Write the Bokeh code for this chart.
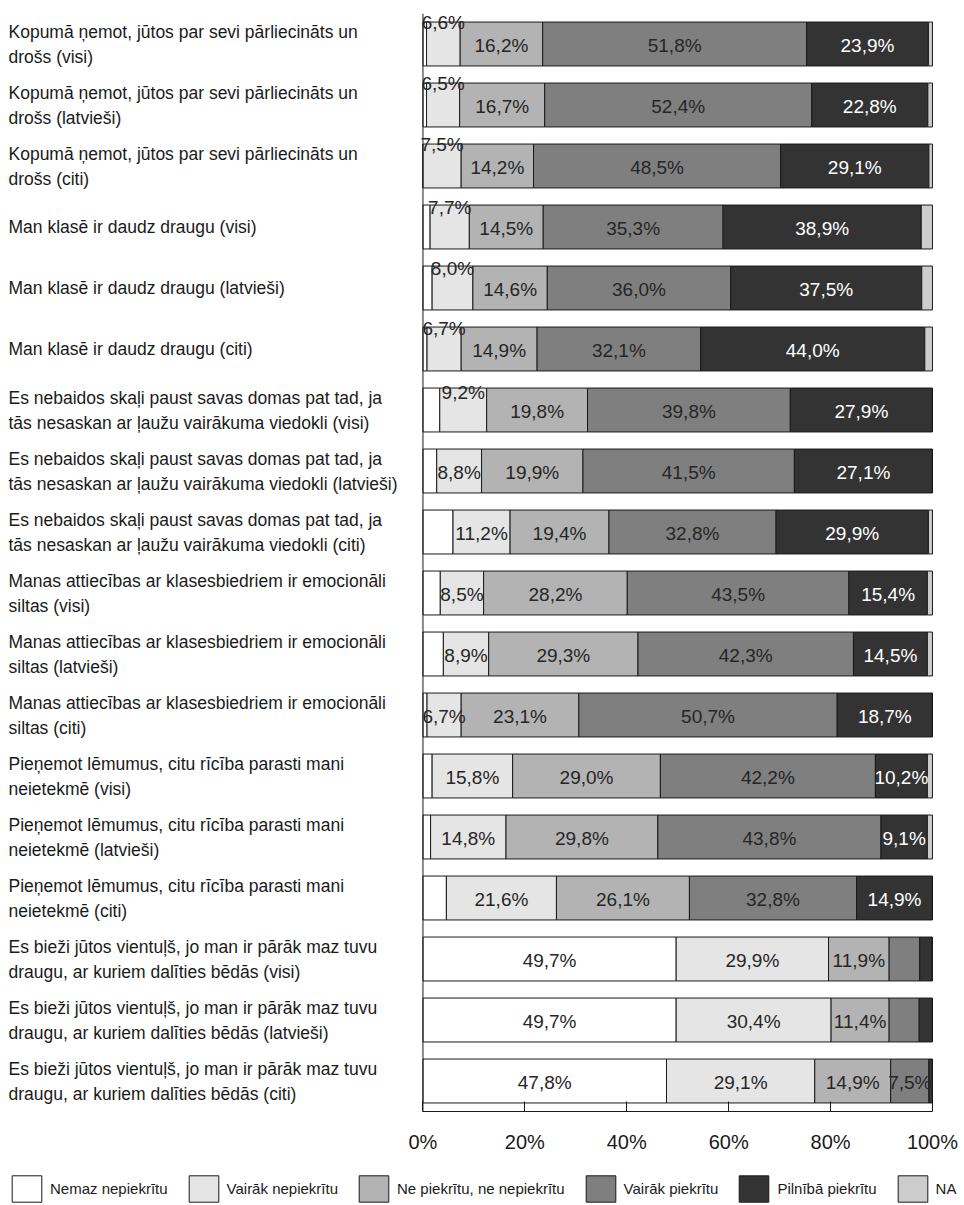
from bokeh.plotting import figure
from bokeh.layouts import column
from bokeh.models import Range1d, FixedTicker, Span, Legend, LegendItem, ColumnDataSource
from bokeh.embed import file_html
from bokeh.resources import INLINE
from bokeh.core.properties import value

# ---------------- data ----------------
categories = [
    "Kopumā ņemot, jūtos par sevi pārliecināts un\ndrošs (visi)",
    "Kopumā ņemot, jūtos par sevi pārliecināts un\ndrošs (latvieši)",
    "Kopumā ņemot, jūtos par sevi pārliecināts un\ndrošs (citi)",
    "Man klasē ir daudz draugu (visi)",
    "Man klasē ir daudz draugu (latvieši)",
    "Man klasē ir daudz draugu (citi)",
    "Es nebaidos skaļi paust savas domas pat tad, ja\ntās nesaskan ar ļaužu vairākuma viedokli (visi)",
    "Es nebaidos skaļi paust savas domas pat tad, ja\ntās nesaskan ar ļaužu vairākuma viedokli (latvieši)",
    "Es nebaidos skaļi paust savas domas pat tad, ja\ntās nesaskan ar ļaužu vairākuma viedokli (citi)",
    "Manas attiecības ar klasesbiedriem ir emocionāli\nsiltas (visi)",
    "Manas attiecības ar klasesbiedriem ir emocionāli\nsiltas (latvieši)",
    "Manas attiecības ar klasesbiedriem ir emocionāli\nsiltas (citi)",
    "Pieņemot lēmumus, citu rīcība parasti mani\nneietekmē (visi)",
    "Pieņemot lēmumus, citu rīcība parasti mani\nneietekmē (latvieši)",
    "Pieņemot lēmumus, citu rīcība parasti mani\nneietekmē (citi)",
    "Es bieži jūtos vientuļš, jo man ir pārāk maz tuvu\ndraugu, ar kuriem dalīties bēdās (visi)",
    "Es bieži jūtos vientuļš, jo man ir pārāk maz tuvu\ndraugu, ar kuriem dalīties bēdās (latvieši)",
    "Es bieži jūtos vientuļš, jo man ir pārāk maz tuvu\ndraugu, ar kuriem dalīties bēdās (citi)",
]

series_names = ["Nemaz nepiekrītu", "Vairāk nepiekrītu", "Ne piekrītu, ne nepiekrītu",
                "Vairāk piekrītu", "Pilnībā piekrītu", "NA"]

nemaz_nepiekritu = [0.7, 0.7, 0.0, 1.4, 1.8, 0.8, 3.3, 2.7, 5.9, 3.4, 4.0, 0.8, 1.8, 1.5, 4.6, 49.7, 49.7, 47.8]
vairak_nepiekritu = [6.6, 6.5, 7.5, 7.7, 8.0, 6.7, 9.2, 8.8, 11.2, 8.5, 8.9, 6.7, 15.8, 14.8, 21.6, 29.9, 30.4, 29.1]
ne_piekritu_ne_nepiekritu = [16.2, 16.7, 14.2, 14.5, 14.6, 14.9, 19.8, 19.9, 19.4, 28.2, 29.3, 23.1, 29.0, 29.8, 26.1, 11.9, 11.4, 14.9]
vairak_piekritu = [51.8, 52.4, 48.5, 35.3, 36.0, 32.1, 39.8, 41.5, 32.8, 43.5, 42.3, 50.7, 42.2, 43.8, 32.8, 6.0, 5.9, 7.5]
pilniba_piekritu = [23.9, 22.8, 29.1, 38.9, 37.5, 44.0, 27.9, 27.1, 29.9, 15.4, 14.5, 18.7, 10.2, 9.1, 14.9, 2.4, 2.6, 0.7]
na_values = [0.8, 0.9, 0.7, 2.2, 2.1, 1.5, 0.0, 0.0, 0.8, 1.0, 1.0, 0.0, 1.0, 1.0, 0.0, 0.1, 0.0, 0.0]

tick_values = [0, 20, 40, 60, 80, 100]
tick_labels = ["0%", "20%", "40%", "60%", "80%", "100%"]

# ---------------- style ----------------
colors = ["#FFFFFF", "#E5E5E5", "#B3B3B3", "#7F7F7F", "#333333", "#CCCCCC"]
label_colors = ["#262626", "#262626", "#262626", "#262626", "#FFFFFF", "#262626"]
FONT = "Liberation Sans"
X_START = -81.35
X_END = 106.29
LABEL_MIN = 6.3
NUDGE_UP_SERIES = 1
NUDGE_UP = {0: -22, 1: -22, 2: -22, 3: -20, 4: -20, 5: -21, 6: -18}

series = [nemaz_nepiekritu, vairak_nepiekritu, ne_piekritu_ne_nepiekritu,
          vairak_piekritu, pilniba_piekritu, na_values]

n = len(categories)
ys = [i + 0.5 for i in range(n)]

p = figure(width=964, height=1170, output_backend="svg", toolbar_location=None,
           x_range=Range1d(X_START, X_END), y_range=Range1d(n, 0),
           y_axis_location=None, min_border_left=8, min_border_right=0,
           min_border_top=13, min_border_bottom=59)
p.outline_line_color = None
p.xgrid.visible = False
p.ygrid.visible = False
p.background_fill_color = "white"
p.border_fill_color = "white"

lefts = [0.0] * n
lab_x, lab_y, lab_t, lab_c, lab_off = [], [], [], [], []
for k, vals in enumerate(series):
    rights = [l + v for l, v in zip(lefts, vals)]
    p.hbar(y=ys, left=lefts, right=rights, height=0.72,
           fill_color=colors[k], line_color="#1a1a1a", line_width=1)
    for i, v in enumerate(vals):
        if v >= LABEL_MIN:
            lab_x.append((lefts[i] + rights[i]) / 2)
            lab_y.append(ys[i])
            lab_t.append(("%.1f" % v).replace(".", ",") + "%")
            lab_c.append(label_colors[k])
            lab_off.append(NUDGE_UP.get(i, 1) if k == NUDGE_UP_SERIES else 1)
    lefts = rights

src = ColumnDataSource(dict(x=lab_x, y=lab_y, t=lab_t, c=lab_c, o=lab_off))
p.text(x="x", y="y", text="t", source=src, text_color="c", y_offset="o",
       text_align="center", text_baseline="middle", text_font=value(FONT),
       text_font_size="19px", level="overlay")

# category labels on the left
csrc = ColumnDataSource(dict(x=[X_START] * n, y=ys, t=categories))
p.text(x="x", y="y", text="t", source=csrc, text_align="left",
       text_baseline="middle", text_font=value(FONT), text_font_size="17.5px",
       text_color="#1a1a1a", text_line_height=1.25, level="overlay")

# vertical axis line at 0
p.add_layout(Span(location=0, dimension="height", line_color="#1a1a1a", line_width=1))

ax = p.xaxis[0]
ax.ticker = FixedTicker(ticks=tick_values)
ax.major_label_overrides = {t: l for t, l in zip(tick_values, tick_labels)}
ax.bounds = (0, 100)
ax.axis_line_color = "#1a1a1a"
ax.major_tick_line_color = "#1a1a1a"
ax.major_tick_in = 10
ax.major_tick_out = 0
ax.minor_tick_line_color = None
ax.major_label_standoff = 19
ax.major_label_text_font = FONT
ax.major_label_text_font_size = "20px"
ax.major_label_text_color = "#1a1a1a"

# ---------------- legend (separate strip below) ----------------
pl = figure(width=964, height=35, output_backend="svg", toolbar_location=None,
            x_range=Range1d(0, 1), y_range=Range1d(0, 1),
            x_axis_location=None, y_axis_location=None,
            min_border_left=8, min_border_right=0, min_border_top=0, min_border_bottom=0)
pl.outline_line_color = None
pl.xgrid.visible = False
pl.ygrid.visible = False
pl.background_fill_color = "white"
pl.border_fill_color = "white"
# legend swatches: renderers whose single bar lies to the right, outside the visible range
leg_renderers = [pl.hbar(y=[0.5], left=[5], right=[6], height=0.5, fill_color=c,
                         line_color="#1a1a1a", line_width=1) for c in colors]
legend = Legend(items=[LegendItem(label=nm, renderers=[r]) for nm, r in zip(series_names, leg_renderers)],
                orientation="horizontal", location=(0, 0),
                glyph_width=37, glyph_height=33, label_standoff=5, spacing=17,
                padding=0, margin=0, border_line_color=None, background_fill_alpha=0,
                label_text_font=FONT, label_text_font_size="15px", label_text_color="#1a1a1a")
pl.add_layout(legend, "center")

layout = column(p, pl, spacing=0)
open("out.html", "w").write(file_html(layout, INLINE))
